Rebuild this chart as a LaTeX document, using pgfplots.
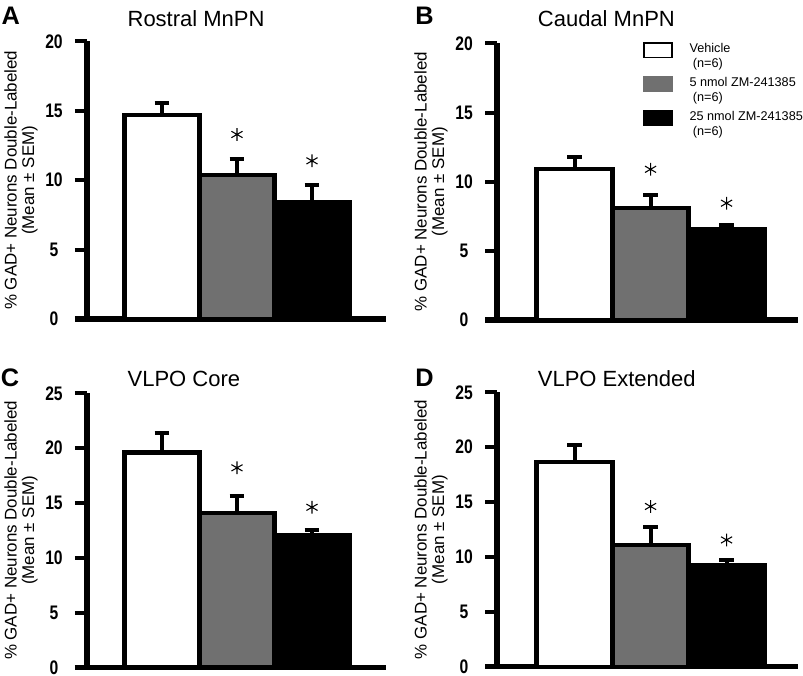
\documentclass[border=0pt]{standalone}
\usepackage{fontspec}
\setmainfont{Liberation Sans}
\newfontface\tickfont[FakeStretch=0.8]{Liberation Sans Bold}
\newcommand\lf{\fontsize{9.5}{11}\selectfont}
\usepackage{pgfplots}
\pgfplotsset{compat=1.18}
\usetikzlibrary{plotmarks}
\definecolor{midgray}{RGB}{112,112,112}

\pgfplotsset{
  panel/.style={
    scale only axis,
    anchor=south west,
    ymin=0,
    axis x line*=bottom, axis y line*=left,
    axis line style={line width=4pt, -},
    x axis line style={shorten <=-9pt},
    xtick=\empty,
    ytick pos=left,
    tick align=outside,
    major tick length=9pt,
    tick style={line width=3pt, black},
    yticklabel style={font=\fontsize{14.7}{14.7}\tickfont, anchor=center, xshift=-15.75pt},
    /pgf/number format/assume math mode=true,
    clip=false,
    every axis title shift=0pt,
    ylabel={\% GAD+ Neurons Double-Labeled\\(Mean ± SEM)},
    ylabel style={align=center, font=\fontsize{12.7}{13.2}\selectfont, at={([xshift=-49.5pt]axis description cs:0,0.5)}, anchor=center},
    title style={font=\fontsize{16.5}{16.5}\selectfont, at={(axis description cs:0.135,1)}, anchor=base west, inner sep=0pt},
  },
  panelL/.style={panel, xmin=0, xmax=3.987, width=224.25pt},
  panelR/.style={panel, xmin=-0.02, xmax=3.94, width=225.75pt},
  bars/.style={ybar, bar shift=0pt, bar width=1, draw=black, /tikz/line width=3.2pt, fill=#1,
    error bars/y dir=plus, error bars/y explicit,
    error bars/error bar style={line width=3pt, black},
    error bars/error mark options={rotate=90, line width=3pt, mark size=5.6pt, black}},
  star/.style={only marks, mark=asterisk, mark size=4.8pt, mark options={line width=0.8pt, black}},
  legbox/.style={legend image code/.code={\filldraw[fill=#1, draw=#1, line width=1.2pt] (0pt,-0.6pt) rectangle (21pt,10.2pt);}},
  legboxw/.style={legend image code/.code={\filldraw[fill=white, draw=black, line width=1.2pt] (0pt,-0.6pt) rectangle (21pt,10.2pt);}},
}

\begin{document}
\begin{tikzpicture}
\useasboundingbox (0,0) rectangle (602.25pt,506.25pt);

% Panel A
\begin{axis}[panelL, at={(65.25pt,267pt)}, height=208.125pt, ymax=20, ytick={0,5,10,15,20},
  title={Rostral MnPN}, title style={yshift=11.1pt}]
\addplot[bars=white] coordinates {(1,14.7) +- (0,0.9)};
\addplot[bars=midgray] coordinates {(2,10.4) +- (0,1.1)};
\addplot[bars=black] coordinates {(3,8.4) +- (0,1.25)};
\addplot[star] coordinates {(2,13.3) (3,11.4)};
\end{axis}

% Panel B
\begin{axis}[panelR, at={(372.75pt,266.25pt)}, height=207.375pt, ymax=20, ytick={0,5,10,15,20},
  title={Caudal MnPN}, title style={yshift=12.6pt},
  legend style={draw=none, fill=none, inner sep=0pt, at={([yshift=2pt]axis description cs:0.485,1)}, anchor=north west,
    font=\lf, nodes={font=\lf},
    cells={align=left, anchor=west}, row sep=2pt}]
\addplot[bars=white, legboxw] coordinates {(1,10.9) +- (0,0.9)};
\addlegendentry{\lf\hspace*{10.5pt}Vehicle\\\lf\hspace*{13pt}(n=6)}
\addplot[bars=midgray, legbox=midgray] coordinates {(2,8.1) +- (0,0.95)};
\addlegendentry{\lf\hspace*{10.5pt}5 nmol ZM-241385\\\lf\hspace*{13pt}(n=6)}
\addplot[bars=black, legbox=black] coordinates {(3,6.6) +- (0,0.25)};
\addlegendentry{\lf\hspace*{10.5pt}25 nmol ZM-241385\\\lf\hspace*{13pt}(n=6)}
\addplot[star, forget plot] coordinates {(2,10.9) (3,8.45)};
\end{axis}

% Panel C
\begin{axis}[panelL, at={(65.25pt,5.775pt)}, height=205.5pt, ymax=25, ytick={0,5,10,15,20,25},
  title={VLPO Core}, title style={yshift=5pt}]
\addplot[bars=white] coordinates {(1,19.6) +- (0,1.8)};
\addplot[bars=midgray] coordinates {(2,14.1) +- (0,1.55)};
\addplot[bars=black] coordinates {(3,12.1) +- (0,0.45)};
\addplot[star] coordinates {(2,18.2) (3,14.6)};
\end{axis}

% Panel D
\begin{axis}[panelR, at={(372.75pt,6.225pt)}, height=205.8pt, ymax=25, ytick={0,5,10,15,20,25},
  title={VLPO Extended}, title style={yshift=4.2pt}]
\addplot[bars=white] coordinates {(1,18.65) +- (0,1.55)};
\addplot[bars=midgray] coordinates {(2,11.1) +- (0,1.6)};
\addplot[bars=black] coordinates {(3,9.25) +- (0,0.5)};
\addplot[star] coordinates {(2,14.6) (3,11.55)};
\end{axis}

\node[anchor=base west, inner sep=0pt, font=\fontsize{19}{19}\selectfont\bfseries] at (1pt,487.5pt) {A};
\node[anchor=base west, inner sep=0pt, font=\fontsize{19}{19}\selectfont\bfseries] at (311.25pt,487.5pt) {B};
\node[anchor=base west, inner sep=0pt, font=\fontsize{19}{19}\selectfont\bfseries] at (0.5pt,216.2pt) {C};
\node[anchor=base west, inner sep=0pt, font=\fontsize{19}{19}\selectfont\bfseries] at (311.25pt,216.2pt) {D};
\end{tikzpicture}
\end{document}
